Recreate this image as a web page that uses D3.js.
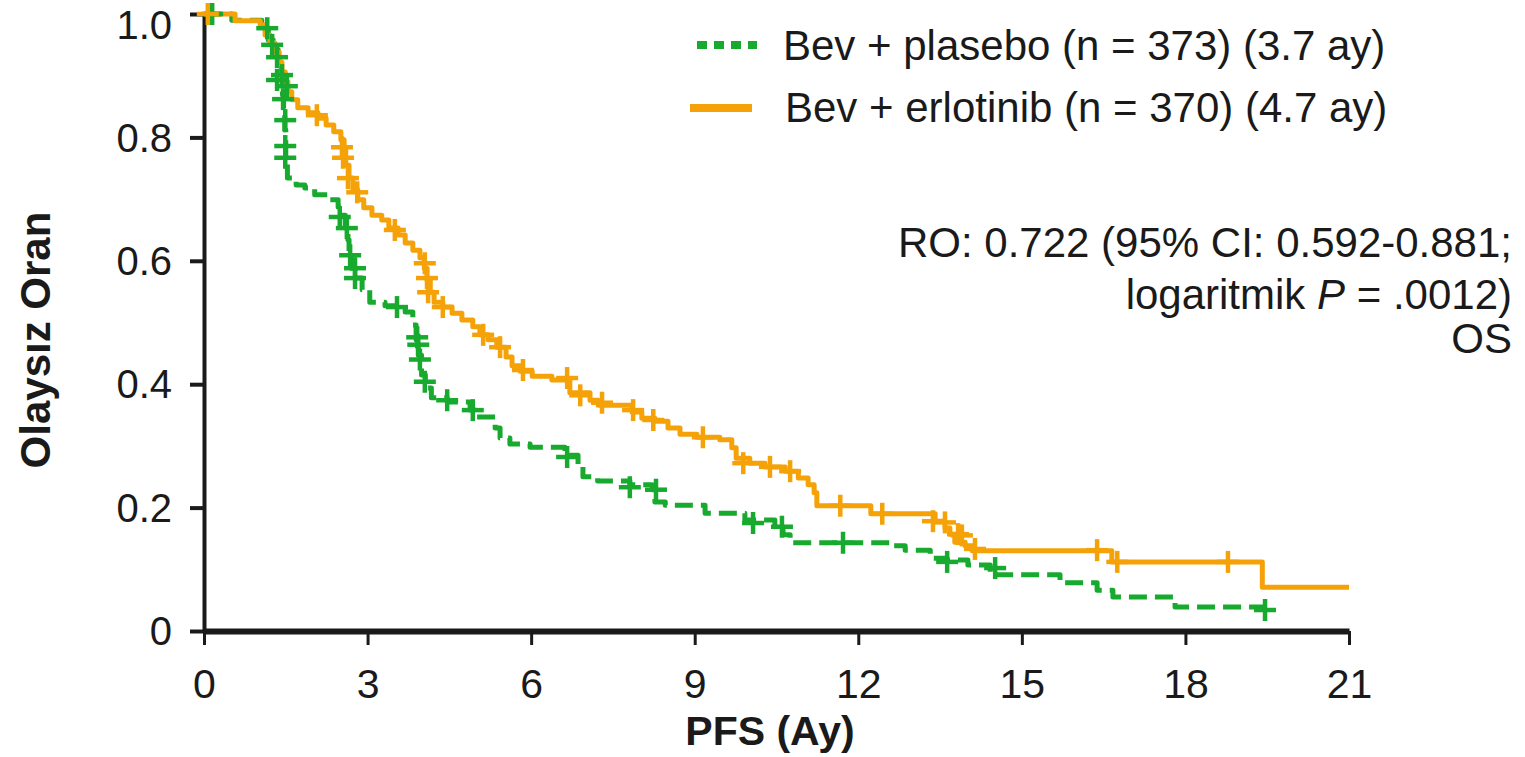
<!DOCTYPE html>
<html>
<head>
<meta charset="utf-8">
<script src="https://cdn.jsdelivr.net/npm/d3@7/dist/d3.min.js"></script>
<style>
  html, body { margin: 0; padding: 0; background: #fff; }
  svg { display: block; }
  text { font-family: "Liberation Sans", Arial, Helvetica, sans-serif; fill: #1a1a1a; }
</style>
</head>
<body>
<svg id="chart" width="1525" height="757"></svg>
<script>
// Kaplan-Meier PFS curves: step times (months) and survival after each step
const erlotinibTimes = [0, 0.57, 1.03, 1.12, 1.21, 1.30, 1.38, 1.43, 1.49, 1.54, 1.61, 1.72, 1.91, 2.09, 2.24, 2.38,
  2.51, 2.57, 2.60, 2.66, 2.73, 2.82, 2.93, 3.08, 3.26, 3.39, 3.56, 3.69, 3.83, 3.96, 4.04, 4.09, 4.15, 4.22,
  4.38, 4.55, 4.73, 4.93, 5.06, 5.21, 5.37, 5.54, 5.65, 5.80, 6.02, 6.38, 6.71, 7.08, 7.23, 7.85, 8.03, 8.27,
  8.51, 8.73, 9.04, 9.46, 9.68, 9.76, 10.01, 10.29, 10.66, 10.90, 11.08, 11.19, 11.24, 12.23, 13.41, 13.59,
  13.68, 13.77, 13.96, 14.09, 16.65, 19.41, 21.0];
const erlotinibSurv = [1.0, 0.989, 0.982, 0.966, 0.953, 0.938, 0.922, 0.906, 0.890, 0.874, 0.861, 0.848, 0.840,
  0.831, 0.820, 0.809, 0.796, 0.780, 0.755, 0.734, 0.715, 0.699, 0.686, 0.674, 0.666, 0.653, 0.642, 0.629,
  0.617, 0.605, 0.588, 0.569, 0.549, 0.533, 0.525, 0.515, 0.504, 0.493, 0.480, 0.472, 0.460, 0.444, 0.430,
  0.421, 0.413, 0.407, 0.386, 0.374, 0.366, 0.355, 0.345, 0.340, 0.329, 0.319, 0.314, 0.310, 0.297, 0.280,
  0.272, 0.266, 0.259, 0.248, 0.237, 0.224, 0.203, 0.190, 0.178, 0.167, 0.157, 0.144, 0.138, 0.130, 0.112,
  0.071, 0.071];

const placeboTimes = [0, 0.51, 1.06, 1.18, 1.27, 1.36, 1.42, 1.44, 1.46, 1.48, 1.50, 1.53, 1.69, 1.85, 2.03, 2.31,
  2.46, 2.53, 2.59, 2.64, 2.66, 2.70, 2.78, 2.90, 3.04, 3.32, 3.69, 3.83, 3.89, 3.93, 3.99, 4.06, 4.17, 4.46,
  4.88, 4.97, 5.34, 5.43, 5.61, 5.98, 6.62, 6.86, 6.95, 7.22, 7.81, 8.22, 8.27, 8.46, 9.19, 9.92, 10.47, 10.62,
  10.75, 12.58, 12.86, 13.32, 13.59, 14.01, 14.42, 15.70, 16.38, 16.67, 17.81, 19.46];
const placeboSurv = [1.0, 0.990, 0.977, 0.958, 0.942, 0.922, 0.901, 0.869, 0.845, 0.812, 0.763, 0.734, 0.723,
  0.718, 0.707, 0.699, 0.687, 0.674, 0.653, 0.634, 0.609, 0.588, 0.572, 0.553, 0.533, 0.527, 0.517, 0.496,
  0.472, 0.447, 0.415, 0.394, 0.378, 0.371, 0.358, 0.347, 0.329, 0.313, 0.303, 0.298, 0.285, 0.266, 0.250,
  0.243, 0.237, 0.229, 0.209, 0.204, 0.191, 0.180, 0.169, 0.156, 0.143, 0.138, 0.131, 0.118, 0.115, 0.107,
  0.091, 0.078, 0.066, 0.055, 0.039, 0.039];

// Censored observations: time (months) and survival at the mark
const erlotinibCensorTimes = [0.07, 2.07, 2.53, 2.55, 2.64, 2.81, 3.50, 4.05, 4.09, 4.11, 4.38, 5.12, 5.43, 5.85,
  6.66, 6.90, 7.30, 7.87, 8.24, 9.15, 9.89, 10.38, 10.75, 11.67, 12.44, 13.37, 13.59, 13.83, 13.90, 14.14,
  16.38, 16.75, 18.78];
const erlotinibCensorSurv = [1.0, 0.836, 0.784, 0.767, 0.734, 0.711, 0.650, 0.596, 0.572, 0.549, 0.525, 0.480,
  0.460, 0.423, 0.410, 0.382, 0.370, 0.358, 0.342, 0.314, 0.272, 0.266, 0.259, 0.203, 0.190, 0.178, 0.176,
  0.157, 0.155, 0.133, 0.131, 0.112, 0.112];

const placeboCensorTimes = [0.15, 1.16, 1.25, 1.34, 1.43, 1.34, 1.52, 1.45, 1.49, 1.49, 1.49, 2.49, 2.62, 2.68,
  2.77, 2.77, 3.54, 3.91, 3.93, 3.96, 4.05, 4.46, 4.93, 6.66, 7.81, 8.29, 10.07, 10.60, 11.72, 13.63, 14.51,
  19.46];
const placeboCensorSurv = [1.0, 0.977, 0.950, 0.930, 0.901, 0.893, 0.883, 0.862, 0.828, 0.786, 0.767, 0.671,
  0.653, 0.609, 0.588, 0.572, 0.525, 0.476, 0.464, 0.440, 0.404, 0.374, 0.358, 0.282, 0.233, 0.229, 0.175,
  0.169, 0.143, 0.112, 0.102, 0.034];

// Axis ticks
const xTickValues = [0, 3, 6, 9, 12, 15, 18, 21];
const yTickValues = [0, 0.2, 0.4, 0.6, 0.8, 1.0];
const yTickLabels = ["0", "0.2", "0.4", "0.6", "0.8", "1.0"];

// Legend and annotation text
const seriesNames = ["Bev + plasebo (n = 373) (3.7 ay)", "Bev + erlotinib (n = 370) (4.7 ay)"];
const xTitle = "PFS (Ay)";
const yTitle = "Olaysız Oran";

const GREEN = "#17aa2f";
const ORANGE = "#f5a209";
const INK = "#1a1a1a";

const svg = d3.select("#chart");
svg.append("rect").attr("width", 1525).attr("height", 757).attr("fill", "#fff");

const x = d3.scaleLinear().domain([0, 21]).range([204, 1349]);
const y = d3.scaleLinear().domain([0, 1]).range([631, 14]);

// Axes
const yAxis = d3.axisLeft(y)
  .tickValues(yTickValues)
  .tickFormat((d, i) => yTickLabels[i])
  .tickSize(14).tickSizeOuter(0).tickPadding(18);
const gy = svg.append("g").attr("transform", "translate(204,0)").call(yAxis);
gy.select(".domain").attr("stroke", INK).attr("stroke-width", 4);
gy.selectAll(".tick line").attr("stroke", INK).attr("stroke-width", 4);
// the top label is nudged down so it stays inside the canvas
gy.selectAll(".tick text").attr("font-size", 40).attr("fill", INK).attr("font-family", null)
  .attr("dy", d => d === 1 ? "0.6em" : "0.34em");

const xAxis = d3.axisBottom(x)
  .tickValues(xTickValues)
  .tickFormat(d3.format("d"))
  .tickSize(14).tickSizeOuter(0).tickPadding(24);
const gx = svg.append("g").attr("transform", "translate(0,631)").call(xAxis);
gx.select(".domain").attr("stroke", INK).attr("stroke-width", 6);
gx.selectAll(".tick line").attr("stroke", INK).attr("stroke-width", 3);
gx.selectAll(".tick text").attr("font-size", 41).attr("fill", INK).attr("font-family", null);

// Axis titles
svg.append("text")
  .attr("transform", "translate(50,340) rotate(-90)")
  .attr("text-anchor", "middle")
  .attr("font-size", 42).attr("font-weight", "bold")
  .text(yTitle);
svg.append("text")
  .attr("x", 770).attr("y", 745)
  .attr("text-anchor", "middle")
  .attr("font-size", 41).attr("font-weight", "bold")
  .text(xTitle);

// Curves
const stepLine = d3.line()
  .x(d => x(d[0]))
  .y(d => y(d[1]))
  .curve(d3.curveStepAfter);

const series = [
  { times: placeboTimes, surv: placeboSurv, cT: placeboCensorTimes, cS: placeboCensorSurv, color: GREEN, dash: "18,8" },
  { times: erlotinibTimes, surv: erlotinibSurv, cT: erlotinibCensorTimes, cS: erlotinibCensorSurv, color: ORANGE, dash: null }
];

series.forEach(s => {
  const pts = s.times.map((t, i) => [t, s.surv[i]]);
  svg.append("path")
    .attr("d", stepLine(pts))
    .attr("fill", "none")
    .attr("stroke", s.color)
    .attr("stroke-width", 5)
    .attr("stroke-linejoin", "round")
    .attr("stroke-dasharray", s.dash);
});

// Censor marks drawn as small crosses
const arm = 11;
series.forEach(s => {
  const g = svg.append("g").attr("stroke", s.color).attr("stroke-width", 4.5);
  s.cT.forEach((t, i) => {
    const cx = x(t), cy = y(s.cS[i]);
    g.append("line").attr("x1", cx).attr("x2", cx).attr("y1", cy - arm).attr("y2", cy + arm);
    g.append("line").attr("x1", cx - arm).attr("x2", cx + arm).attr("y1", cy).attr("y2", cy);
  });
});

// Legend
const legend = svg.append("g");
legend.append("line").attr("x1", 697).attr("x2", 757).attr("y1", 45).attr("y2", 45)
  .attr("stroke", GREEN).attr("stroke-width", 8).attr("stroke-dasharray", "10,7");
legend.append("text").attr("x", 783).attr("y", 60).attr("font-size", 42).text(seriesNames[0]);
legend.append("line").attr("x1", 690).attr("x2", 752).attr("y1", 108).attr("y2", 108)
  .attr("stroke", ORANGE).attr("stroke-width", 8);
legend.append("text").attr("x", 785).attr("y", 122).attr("font-size", 42).text(seriesNames[1]);

// Hazard ratio annotation
const ann = svg.append("g").attr("text-anchor", "end").attr("font-size", 42);
ann.append("text").attr("x", 1512).attr("y", 257).text("RO: 0.722 (95% CI: 0.592-0.881;");
const l2 = ann.append("text").attr("x", 1512).attr("y", 309);
l2.append("tspan").text("logaritmik ");
l2.append("tspan").attr("font-style", "italic").text("P");
l2.append("tspan").text(" = .0012)");
ann.append("text").attr("x", 1512).attr("y", 353).text("OS");
</script>
</body>
</html>
